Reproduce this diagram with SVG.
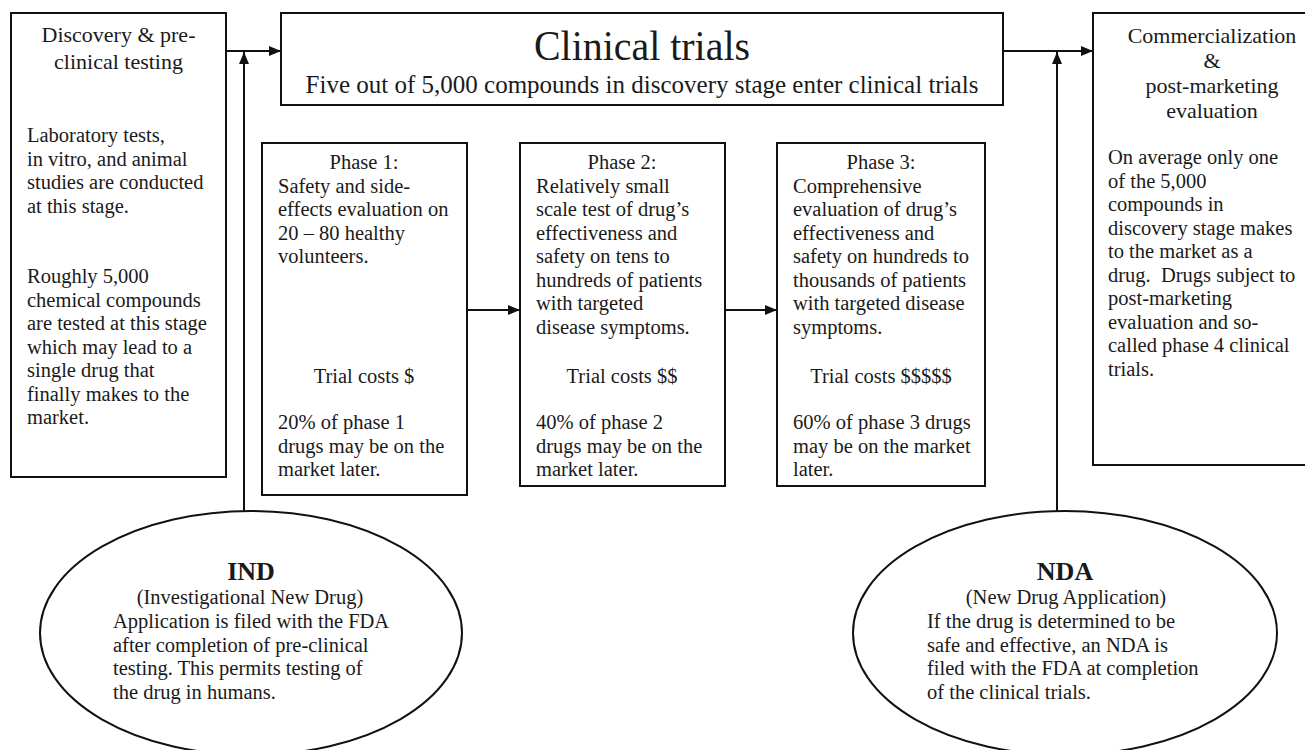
<svg xmlns="http://www.w3.org/2000/svg" width="1305" height="750" viewBox="0 0 1305 750">
<defs>
<marker id="ah" viewBox="0 0 12 10" refX="12" refY="5" markerWidth="12" markerHeight="10" markerUnits="userSpaceOnUse" orient="auto"><path d="M0,0 L12,5 L0,10 z" fill="#111"/></marker>
</defs>
<style>
.box{fill:#fff;stroke:#111;stroke-width:2}
.t{font-family:"Liberation Serif","Times New Roman",serif;font-size:20.5px;fill:#1a1a1a}
.c{text-anchor:middle}
.h{font-size:22px}
.b{font-weight:bold;font-size:26px}
.title{font-size:42px}
.sub{font-size:25px}
.conn{stroke:#111;stroke-width:2;fill:none}
</style>
<rect width="1305" height="750" fill="#fff"/>
<g id="connectors">
<path class="conn" d="M226,51 H281" marker-end="url(#ah)"/>
<path class="conn" d="M1003,51 H1093" marker-end="url(#ah)"/>
<path class="conn" d="M244,511 V52" marker-end="url(#ah)"/>
<path class="conn" d="M1057,511 V52" marker-end="url(#ah)"/>
<path class="conn" d="M467,310 H520" marker-end="url(#ah)"/>
<path class="conn" d="M725,310 H777" marker-end="url(#ah)"/>
</g>
<g id="discovery">
<rect class="box" x="11" y="13" width="215" height="464"/>
<text class="t h c" x="118.5" y="42">Discovery &amp; pre-</text>
<text class="t h c" x="118.5" y="69">clinical testing</text>
<text class="t" x="27" y="142">Laboratory tests,</text>
<text class="t" x="27" y="165.5">in vitro, and animal</text>
<text class="t" x="27" y="189">studies are conducted</text>
<text class="t" x="27" y="212.5">at this stage.</text>
<text class="t" x="27" y="283">Roughly 5,000</text>
<text class="t" x="27" y="306.5">chemical compounds</text>
<text class="t" x="27" y="330">are tested at this stage</text>
<text class="t" x="27" y="353.5">which may lead to a</text>
<text class="t" x="27" y="377">single drug that</text>
<text class="t" x="27" y="400.5">finally makes to the</text>
<text class="t" x="27" y="424">market.</text>
</g>
<g id="clinical">
<rect class="box" x="281" y="13" width="722" height="92"/>
<text class="t title c" x="642" y="60" textLength="216" lengthAdjust="spacingAndGlyphs">Clinical trials</text>
<text class="t sub c" x="642" y="93">Five out of 5,000 compounds in discovery stage enter clinical trials</text>
</g>
<g id="phase1">
<rect class="box" x="262" y="143" width="205" height="352"/>
<text class="t c" x="364" y="169">Phase 1:</text>
<text class="t" x="278" y="192.5">Safety and side-</text>
<text class="t" x="278" y="216">effects evaluation on</text>
<text class="t" x="278" y="239.5">20 – 80 healthy</text>
<text class="t" x="278" y="263">volunteers.</text>
<text class="t c" x="364" y="383">Trial costs $</text>
<text class="t" x="278" y="429">20% of phase 1</text>
<text class="t" x="278" y="452.5">drugs may be on the</text>
<text class="t" x="278" y="476">market later.</text>
</g>
<g id="phase2">
<rect class="box" x="520" y="143" width="205" height="343"/>
<text class="t c" x="622" y="169">Phase 2:</text>
<text class="t" x="536" y="192.5">Relatively small</text>
<text class="t" x="536" y="216">scale test of drug’s</text>
<text class="t" x="536" y="239.5">effectiveness and</text>
<text class="t" x="536" y="263">safety on tens to</text>
<text class="t" x="536" y="286.5">hundreds of patients</text>
<text class="t" x="536" y="310">with targeted</text>
<text class="t" x="536" y="333.5">disease symptoms.</text>
<text class="t c" x="622" y="383">Trial costs $$</text>
<text class="t" x="536" y="429">40% of phase 2</text>
<text class="t" x="536" y="452.5">drugs may be on the</text>
<text class="t" x="536" y="476">market later.</text>
</g>
<g id="phase3">
<rect class="box" x="777" y="143" width="208" height="343"/>
<text class="t c" x="881" y="169">Phase 3:</text>
<text class="t" x="793" y="192.5">Comprehensive</text>
<text class="t" x="793" y="216">evaluation of drug’s</text>
<text class="t" x="793" y="239.5">effectiveness and</text>
<text class="t" x="793" y="263">safety on hundreds to</text>
<text class="t" x="793" y="286.5">thousands of patients</text>
<text class="t" x="793" y="310">with targeted disease</text>
<text class="t" x="793" y="333.5">symptoms.</text>
<text class="t c" x="881" y="383">Trial costs $$$$$</text>
<text class="t" x="793" y="429">60% of phase 3 drugs</text>
<text class="t" x="793" y="452.5">may be on the market</text>
<text class="t" x="793" y="476">later.</text>
</g>
<g id="commercialization">
<rect class="box" x="1093" y="13" width="220" height="452"/>
<text class="t h c" x="1212" y="43">Commercialization</text>
<text class="t h c" x="1212" y="68">&amp;</text>
<text class="t h c" x="1212" y="93">post-marketing</text>
<text class="t h c" x="1212" y="118">evaluation</text>
<text class="t" x="1108" y="164">On average only one</text>
<text class="t" x="1108" y="187.5">of the 5,000</text>
<text class="t" x="1108" y="211">compounds in</text>
<text class="t" x="1108" y="234.5">discovery stage makes</text>
<text class="t" x="1108" y="258">to the market as a</text>
<text class="t" x="1108" y="281.5">drug.&#160; Drugs subject to</text>
<text class="t" x="1108" y="305">post-marketing</text>
<text class="t" x="1108" y="328.5">evaluation and so-</text>
<text class="t" x="1108" y="352">called phase 4 clinical</text>
<text class="t" x="1108" y="375.5">trials.</text>
</g>
<g id="ind">
<ellipse class="box" cx="251" cy="633" rx="211" ry="122"/>
<text class="t b c" x="251" y="580">IND</text>
<text class="t c" x="250" y="604">(Investigational New Drug)</text>
<text class="t" x="113" y="628">Application is filed with the FDA</text>
<text class="t" x="113" y="651.5">after completion of pre-clinical</text>
<text class="t" x="113" y="675">testing. This permits testing of</text>
<text class="t" x="113" y="698.5">the drug in humans.</text>
</g>
<g id="nda">
<ellipse class="box" cx="1065" cy="633" rx="212" ry="122"/>
<text class="t b c" x="1065" y="580">NDA</text>
<text class="t c" x="1066" y="604">(New Drug Application)</text>
<text class="t" x="927" y="628">If the drug is determined to be</text>
<text class="t" x="927" y="651.5">safe and effective, an NDA is</text>
<text class="t" x="927" y="675">filed with the FDA at completion</text>
<text class="t" x="927" y="698.5">of the clinical trials.</text>
</g>
</svg>
